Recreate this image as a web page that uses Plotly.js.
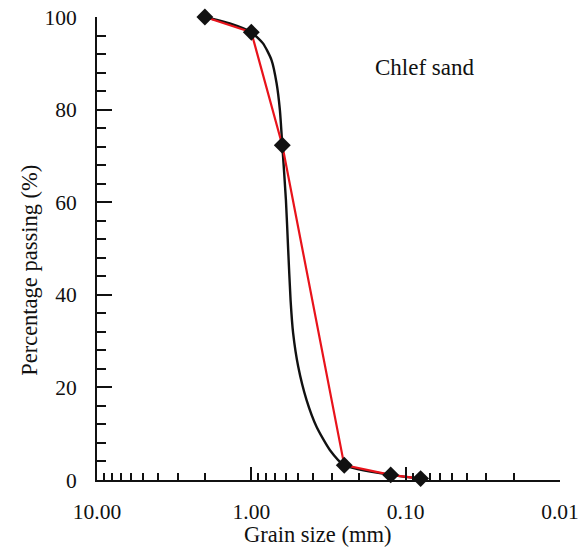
<!DOCTYPE html>
<html>
<head>
<meta charset="utf-8">
<script src="https://cdn.plot.ly/plotly-3.0.1.min.js"></script>
<style>
  html, body { margin: 0; padding: 0; background: #fff; }
  #chart { width: 586px; height: 547px; }
</style>
</head>
<body>
<div id="chart"></div>
<script>
// Sieve analysis of Chlef sand
const sieveSize = [2.0, 1.0, 0.63, 0.25, 0.125, 0.08];     // mm
const passing   = [100, 96.7, 72.3, 3.2, 1.1, 0.3];       // %

// Smooth gradation curve traced through the sieve results
const curveSize    = [2.0, 1.38, 1.0, 0.84, 0.74, 0.686, 0.653, 0.63, 0.597, 0.577, 0.557, 0.536, 0.497, 0.439, 0.378, 0.31, 0.25, 0.125, 0.08];
const curvePassing = [100, 98.6, 96.7, 94.3, 90.7, 85.7, 79.9, 72.3, 60.5, 49.7, 38.9, 31.7, 24.5, 17.3, 11.5, 6.5, 3.2, 1.1, 0.3];

const xMajor = [10, 1, 0.1, 0.01];
const xMajorText = ['10.00', '1.00', '0.10', '0.01'];
const xMinor = [9, 8, 7, 6, 5, 4, 3, 2, 0.9, 0.8, 0.7, 0.6, 0.5, 0.4, 0.3, 0.2, 0.09, 0.08, 0.07, 0.06, 0.05, 0.04, 0.03, 0.02];

const font = 'Liberation Serif';
const ink = '#111';

const traces = [
  {
    x: curveSize, y: curvePassing, type: 'scatter', mode: 'lines',
    line: { color: ink, width: 2.4, shape: 'spline', smoothing: 0.6 },
    cliponaxis: false, hoverinfo: 'skip', showlegend: false
  },
  {
    x: sieveSize, y: passing, type: 'scatter', mode: 'lines+markers',
    line: { color: '#e8131b', width: 2.2 },
    marker: { symbol: 'diamond', size: 13, color: ink },
    cliponaxis: false, showlegend: false
  }
];

const layout = {
  width: 586, height: 547,
  margin: { l: 97, r: 26, t: 17, b: 67 },
  paper_bgcolor: '#fff', plot_bgcolor: '#fff',
  font: { family: font, size: 21, color: ink },
  showlegend: false,
  xaxis: {
    type: 'log', range: [1, -2],
    tickmode: 'array', tickvals: xMajor, ticktext: xMajorText,
    ticks: 'inside', ticklen: 13, tickwidth: 2, tickcolor: ink,
    showline: true, linecolor: ink, linewidth: 2,
    showgrid: false, zeroline: false,
    ticklabelstandoff: 11,
    tickfont: { family: font, size: 21.5, color: ink },
    minor: { tickmode: 'array', tickvals: xMinor, ticks: 'inside', ticklen: 7, tickwidth: 2, tickcolor: ink, showgrid: false }
  },
  yaxis: {
    range: [0, 100], dtick: 20, tick0: 0,
    ticks: 'inside', ticklen: 15, tickwidth: 2, tickcolor: ink,
    showline: true, linecolor: ink, linewidth: 2,
    showgrid: false, zeroline: false,
    ticklabelstandoff: 14,
    tickfont: { family: font, size: 21.5, color: ink },
    minor: { dtick: 4, ticks: 'inside', ticklen: 9, tickwidth: 2, tickcolor: ink, showgrid: false }
  },
  annotations: [
    { text: 'Grain size (mm)', xref: 'paper', yref: 'paper', x: 0.477, y: -0.118,
      xanchor: 'center', yanchor: 'middle', showarrow: false,
      font: { family: font, size: 22.5, color: ink } },
    { text: 'Percentage passing (%)', xref: 'paper', yref: 'paper', x: -0.145, y: 0.4536,
      xanchor: 'center', yanchor: 'middle', textangle: -90, showarrow: false,
      font: { family: font, size: 22.5, color: ink } },
    { text: 'Chlef sand', xref: 'paper', yref: 'paper', x: 0.708, y: 0.89,
      xanchor: 'center', yanchor: 'middle', showarrow: false,
      font: { family: font, size: 23, color: ink } }
  ]
};

Plotly.newPlot('chart', traces, layout, { displayModeBar: false, staticPlot: true });
</script>
</body>
</html>
